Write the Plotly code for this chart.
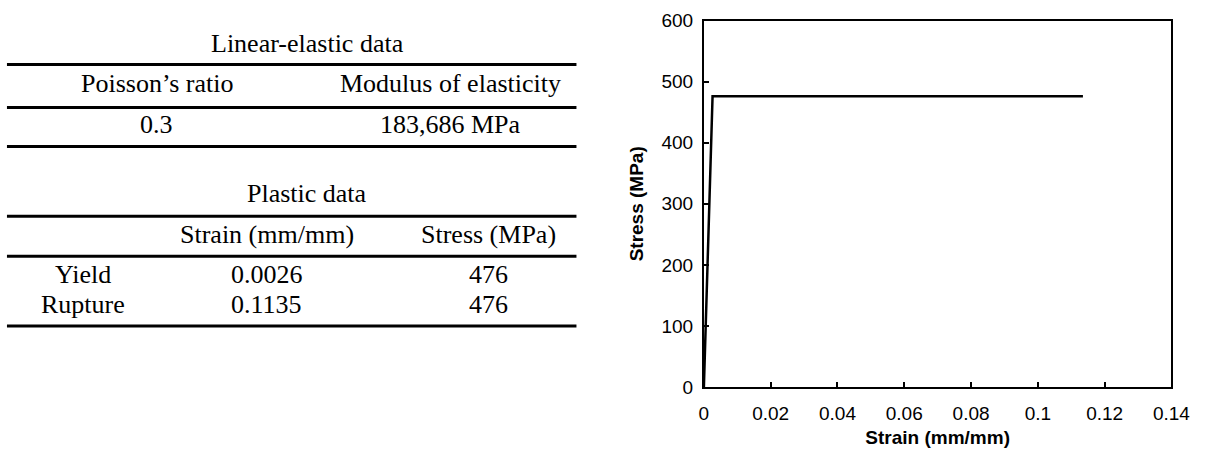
import plotly.graph_objects as go

# ---- material data ----
linear_title = "Linear-elastic data"
linear_headers = ["Poisson’s ratio", "Modulus of elasticity"]
poisson_ratio = 0.3
modulus_mpa = 183686

plastic_title = "Plastic data"
plastic_headers = ["", "Strain (mm/mm)", "Stress (MPa)"]
plastic_points = ["Yield", "Rupture"]
plastic_strain = [0.0026, 0.1135]
plastic_stress = [476, 476]

x_ticks = [0, 0.02, 0.04, 0.06, 0.08, 0.1, 0.12, 0.14]
y_ticks = [0, 100, 200, 300, 400, 500, 600]

W, H = 1212, 464
SERIF = "Liberation Serif, Times New Roman, serif"
SANS = "Liberation Sans, Arial, sans-serif"


def px(x):
    return x / W


def py(y):
    return 1 - y / H


# stress-strain curve: origin -> yield -> rupture
curve_x = [0] + plastic_strain
curve_y = [0] + plastic_stress

fig = go.Figure()
fig.add_trace(go.Scatter(x=curve_x, y=curve_y, mode="lines",
                         line=dict(color="black", width=2.5),
                         showlegend=False, hoverinfo="skip"))

annotations = []
shapes = []


def text(x, y, s, size=26):
    annotations.append(dict(x=px(x), y=py(y - 2), xref="paper", yref="paper",
                            text=s, showarrow=False, xanchor="center",
                            yanchor="middle",
                            font=dict(family=SERIF, size=size, color="black")))


def rule(y, width=3):
    shapes.append(dict(type="line", xref="paper", yref="paper",
                       x0=px(2), x1=px(583), y0=py(y), y1=py(y),
                       line=dict(color="black", width=width)))


# linear-elastic table
lin_cols = [155, 455]
text(309, 37, linear_title)
rule(57)
for cx, h in zip(lin_cols, linear_headers):
    text(cx, 79, h)
rule(102)
text(lin_cols[0], 122, f"{poisson_ratio:g}")
text(lin_cols[1], 122, f"{modulus_mpa:,} MPa")
rule(143)

# plastic table
pl_cols = [80, 267, 493]
text(308, 194, plastic_title)
rule(216)
for cx, h in zip(pl_cols, plastic_headers):
    if h:
        text(cx, 237, h)
rule(258)
for ry, name, e, s in zip([279, 310], plastic_points, plastic_strain, plastic_stress):
    text(pl_cols[0], ry, name)
    text(pl_cols[1], ry, f"{e:.4f}")
    text(pl_cols[2], ry, f"{s}")
rule(331)

axis_common = dict(showline=True, linecolor="black", linewidth=2, mirror=True,
                   ticks="inside", ticklen=5, tickwidth=2, tickcolor="black",
                   showgrid=False, zeroline=False,
                   tickfont=dict(family=SANS, size=19, color="black"))

fig.update_layout(
    width=W, height=H,
    margin=dict(l=0, r=0, t=0, b=0),
    paper_bgcolor="white", plot_bgcolor="white",
    xaxis=dict(domain=[px(713), px(1190)], range=[0, 0.14],
               tickvals=x_ticks, ticktext=[f"{v:g}" for v in x_ticks],
               ticklabelstandoff=8,
               title=dict(text="<b>Strain (mm/mm)</b>", standoff=8,
                          font=dict(family=SANS, size=19, color="black")),
               **axis_common),
    yaxis=dict(domain=[py(395), py(11)], range=[0, 600],
               tickvals=y_ticks, ticktext=[str(v) for v in y_ticks],
               ticklabelstandoff=5,
               title=dict(text="<b>Stress (MPa)</b>", standoff=13,
                          font=dict(family=SANS, size=19, color="black")),
               **axis_common),
    annotations=annotations,
    shapes=shapes,
)

fig.write_html("out.html")
